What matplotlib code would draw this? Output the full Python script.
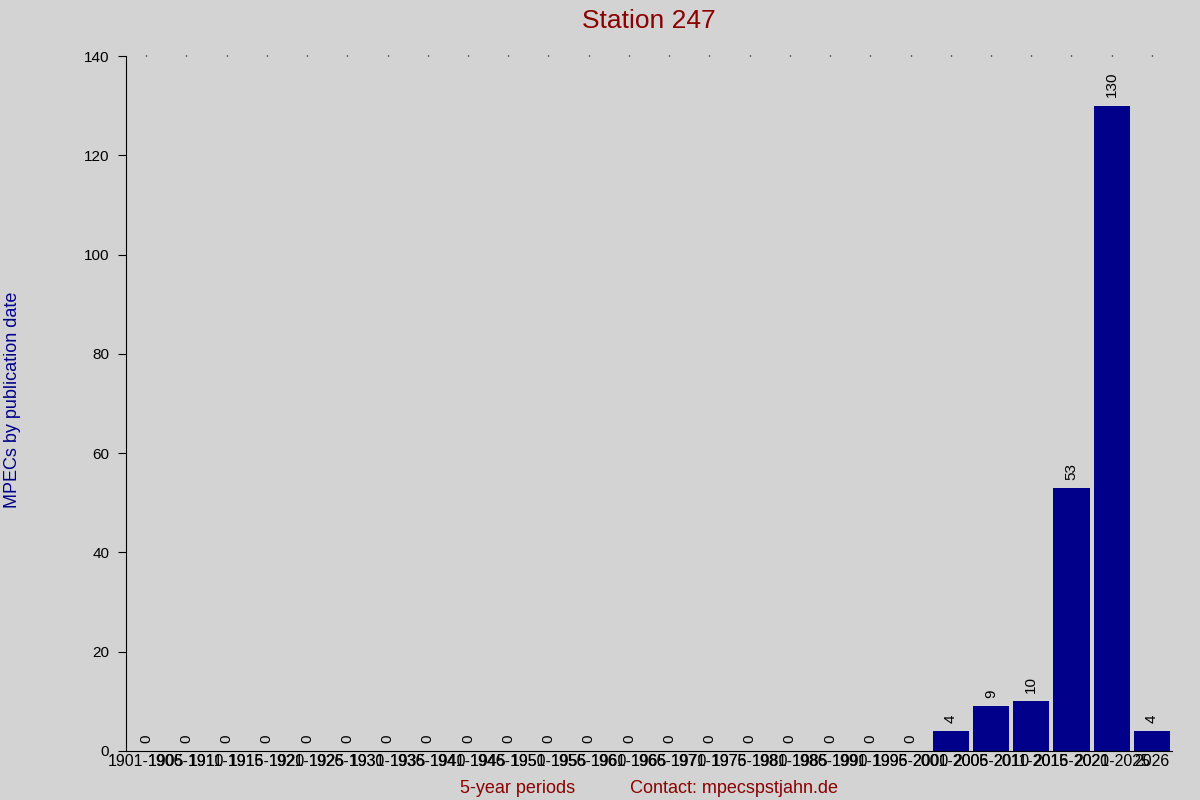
import numpy as np
import matplotlib
matplotlib.use("Agg")
import matplotlib.pyplot as plt

plt.rcParams['font.family'] = ['Liberation Sans', 'DejaVu Sans']

periods = ["1901-1905", "1906-1910", "1911-1915", "1916-1920", "1921-1925",
           "1926-1930", "1931-1935", "1936-1940", "1941-1945", "1946-1950",
           "1951-1955", "1956-1960", "1961-1965", "1966-1970", "1971-1975",
           "1976-1980", "1981-1985", "1986-1990", "1991-1995", "1996-2000",
           "2001-2005", "2006-2010", "2011-2015", "2016-2020", "2021-2025",
           "2026"]
counts = [0, 0, 0, 0, 0, 0, 0, 0, 0, 0, 0, 0, 0, 0, 0, 0, 0, 0, 0, 0,
          4, 9, 10, 53, 130, 4]
yticks = [0, 20, 40, 60, 80, 100, 120, 140]

bg = '#d3d3d3'
fig = plt.figure(figsize=(12, 8), dpi=100, facecolor=bg)
ax = fig.add_axes([0.105, 0.06125, 0.8717, 0.86875])
ax.set_facecolor(bg)

x = np.arange(len(periods))
bars = ax.bar(x, counts, width=0.9, color='#00008b')
for xi, c in zip(x, counts):
    ax.annotate(str(c), (xi, c), xytext=(0, 6), textcoords='offset points',
                rotation=90, ha='center', va='bottom', fontsize=11)

ax.set_xlim(-0.5, len(periods) - 0.5)
ax.set_ylim(0, 140)
ax.set_yticks(yticks)
ax.set_xticks(x)
ax.set_xticklabels(periods, fontsize=11.5)
ax.tick_params(axis='x', bottom=False, top=True, direction='out', length=1,
               width=1, pad=1)
ax.tick_params(axis='y', labelsize=11, length=6, pad=6)

for s in ['top', 'right']:
    ax.spines[s].set_visible(False)

ax.set_title("Station 247", color='#8b0000', fontsize=19, pad=20)
fig.text(13 / 1200, 0.5, "MPECs by publication date", color='#00008b',
         fontsize=13, rotation=90, ha='center', va='center')
ax.set_xlabel("5-year periods" + " " * 11 + "Contact: mpecspstjahn.de",
              color='#8b0000', fontsize=13, labelpad=8)

fig.savefig("out.png", dpi=100, facecolor=bg)
